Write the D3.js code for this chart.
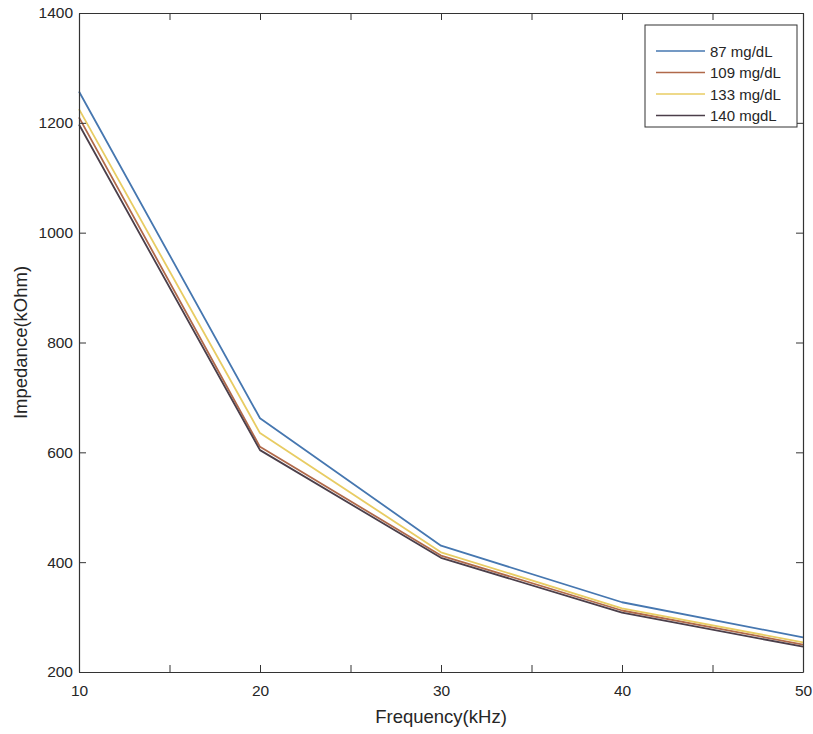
<!DOCTYPE html>
<html>
<head>
<meta charset="utf-8">
<script src="https://cdn.jsdelivr.net/npm/d3@7"></script>
<style>
  body { margin: 0; background: #fff; }
  text { font-family: "Liberation Sans", Arial, sans-serif; fill: #262626; }
</style>
</head>
<body>
<svg id="chart" width="813" height="734"></svg>
<script>
// values
let freqs = [10, 20, 30, 40, 50];
let s87 = [1257, 662, 430, 327, 263];
let s109 = [1210, 610, 412, 312, 250];
let s133 = [1225, 635, 418, 316, 254];
let s140 = [1197, 604, 408, 308, 246];
let seriesNames = ["87 mg/dL", "109 mg/dL", "133 mg/dL", "140 mgdL"];
let xTicks = [10, 15, 20, 25, 30, 35, 40, 45, 50];
let yTicks = [200, 400, 600, 800, 1000, 1200, 1400];

let colors = ["#4677b0", "#b0694a", "#e8cc63", "#4b3f4a"];
let allSeries = [s87, s109, s133, s140];

let margin = {left: 79, right: 10, top: 13, bottom: 62};
let width = 813, height = 734;

let svg = d3.select("#chart");

let x = d3.scaleLinear().domain([10, 50]).range([margin.left, width - margin.right]);
let y = d3.scaleLinear().domain([200, 1400]).range([height - margin.bottom, margin.top]);

let line = d3.line()
    .x(function (d, i) { return x(freqs[i]); })
    .y(function (d) { return y(d); });

// lines
allSeries.forEach(function (s, i) {
    svg.append("path")
        .datum(s)
        .attr("fill", "none")
        .attr("stroke", colors[i])
        .attr("stroke-width", 1.8)
        .attr("stroke-linejoin", "round")
        .attr("d", line);
});

// axes (MATLAB style, ticks inward, box on)
let tickLen = 7;
let axisColor = "#333";

let xAxis = d3.axisBottom(x).tickValues(xTicks).tickSizeInner(-tickLen).tickSizeOuter(0)
    .tickFormat(function (d) { return d % 10 === 0 ? d : ""; });
let gx = svg.append("g").attr("transform", "translate(0," + y(200) + ")").call(xAxis);
gx.selectAll("text").attr("y", 24).attr("dy", 0);

let xTop = d3.axisTop(x).tickValues(xTicks).tickSizeInner(-tickLen).tickSizeOuter(0).tickFormat("");
svg.append("g").attr("transform", "translate(0," + y(1400) + ")").call(xTop);

let yAxis = d3.axisLeft(y).tickValues(yTicks).tickSizeInner(-tickLen).tickSizeOuter(0)
    .tickFormat(d3.format("d"));
let gy = svg.append("g").attr("transform", "translate(" + x(10) + ",0)").call(yAxis);
gy.selectAll("text").attr("x", -6);

let yRight = d3.axisRight(y).tickValues(yTicks).tickSizeInner(-tickLen).tickSizeOuter(0).tickFormat("");
svg.append("g").attr("transform", "translate(" + x(50) + ",0)").call(yRight);

svg.selectAll(".domain").attr("stroke", axisColor).attr("stroke-width", 1.2);
svg.selectAll(".tick line").attr("stroke", axisColor);
svg.selectAll(".tick text")
    .style("font-family", "Liberation Sans, Arial, sans-serif")
    .style("font-size", "15.5px")
    .attr("fill", "#262626");

// axis labels
svg.append("text")
    .attr("x", (x(10) + x(50)) / 2)
    .attr("y", 723)
    .attr("text-anchor", "middle")
    .style("font-size", "18.5px")
    .text("Frequency(kHz)");

svg.append("text")
    .attr("transform", "translate(27," + (y(200) + y(1400)) / 2 + ") rotate(-90)")
    .attr("text-anchor", "middle")
    .style("font-size", "18.5px")
    .text("Impedance(kOhm)");

// legend
let lg = svg.append("g").attr("transform", "translate(645,25)");
lg.append("rect")
    .attr("width", 152).attr("height", 102)
    .attr("fill", "#fff").attr("stroke", axisColor).attr("stroke-width", 1);
seriesNames.forEach(function (n, i) {
    let yy = 26 + i * 21.5;
    lg.append("line")
        .attr("x1", 11).attr("x2", 60).attr("y1", yy).attr("y2", yy)
        .attr("stroke", colors[i]).attr("stroke-width", 1.6);
    lg.append("text")
        .attr("x", 65).attr("y", yy + 5.5)
        .style("font-size", "15px")
        .text(n);
});
</script>
</body>
</html>
